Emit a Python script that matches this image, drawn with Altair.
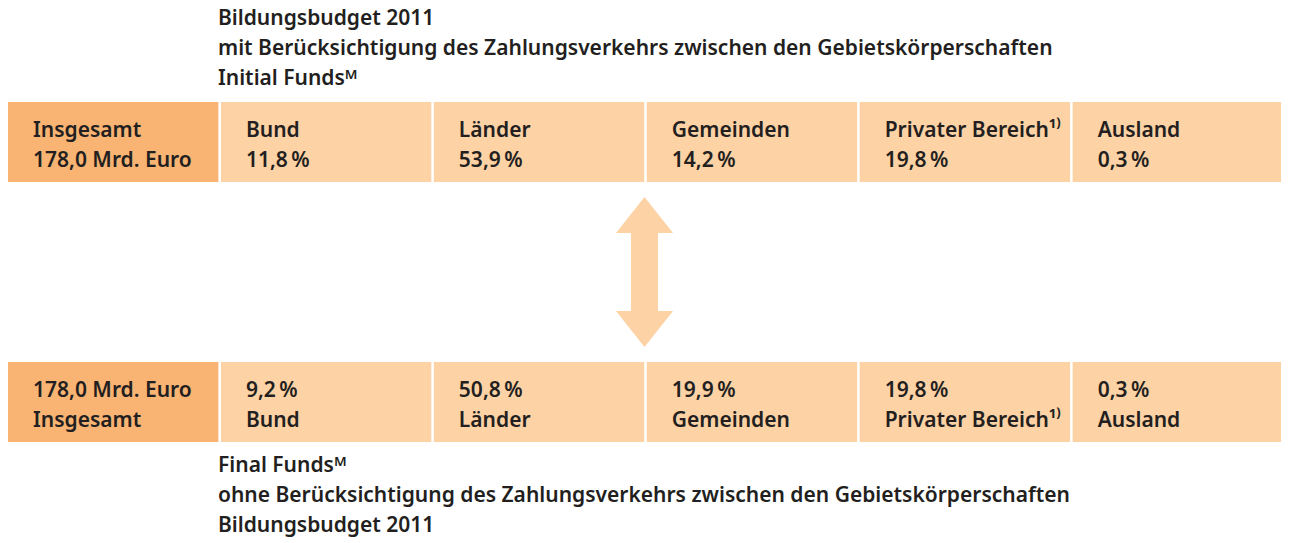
import altair as alt
import pandas as pd

# ---- Daten ----
kategorien = ["Bund", "Länder", "Gemeinden", "Privater Bereich¹⁾", "Ausland"]
anteile_initial = [11.8, 53.9, 14.2, 19.8, 0.3]
anteile_final = [9.2, 50.8, 19.9, 19.8, 0.3]
gesamt_mrd = 178.0
gesamt_label = "Insgesamt"
reihen = ["Initial", "Final"]
titel_oben = ["Bildungsbudget 2011",
              "mit Berücksichtigung des Zahlungsverkehrs zwischen den Gebietskörperschaften",
              "Initial Fundsᴹ"]
titel_unten = ["Final Fundsᴹ",
               "ohne Berücksichtigung des Zahlungsverkehrs zwischen den Gebietskörperschaften",
               "Bildungsbudget 2011"]

DUNKEL = "#F9B473"
HELL = "#FDD2A5"
TEXT = "#231F20"
FONT = "Noto Sans"
FS = 21
FW = 600


def de(v):
    return f"{v:.1f}".replace(".", ",")


spalten = [gesamt_label] + kategorien
rows = []
for reihe, anteile in zip(reihen, [anteile_initial, anteile_final]):
    eintraege = [(gesamt_label, de(gesamt_mrd) + " Mrd. Euro", "gesamt")] + [
        (k, de(a) + "\u2009%", "teil") for k, a in zip(kategorien, anteile)
    ]
    for name, wert, typ in eintraege:
        text = f"{name}\n{wert}" if reihe == "Initial" else f"{wert}\n{name}"
        rows.append(dict(spalte=name, reihe=reihe, text=text, typ=typ))
df = pd.DataFrame(rows)

W, H = 1273, 535

xscale = alt.Scale(domain=spalten, range=[0, 1275], paddingInner=0.012, paddingOuter=0)
yscale = alt.Scale(domain=reihen, range=[94, 434], paddingInner=0.6923, paddingOuter=0)

base = alt.Chart(df)

boxes = base.mark_rect().encode(
    x=alt.X("spalte:N", scale=xscale, axis=None),
    y=alt.Y("reihe:N", scale=yscale, axis=None),
    color=alt.Color("typ:N", scale=alt.Scale(domain=["gesamt", "teil"], range=[DUNKEL, HELL]), legend=None),
)

labels = base.mark_text(
    align="left", baseline="top", lineBreak="\n", lineHeight=30,
    font=FONT, fontSize=FS, fontWeight=FW, color=TEXT, dx=25, dy=18,
).encode(
    x=alt.X("spalte:N", scale=xscale, axis=None, bandPosition=0),
    y=alt.Y("reihe:N", scale=yscale, axis=None, bandPosition=0),
    text="text:N",
)

arrow_path = ("M0,-1 L0.38,-0.52 L0.18,-0.52 L0.18,0.52 L0.38,0.52 L0,1 "
              "L-0.38,0.52 L-0.18,0.52 L-0.18,-0.52 L-0.38,-0.52 Z")
arrow = alt.Chart(pd.DataFrame({"a": [0]})).mark_point(
    shape=arrow_path, filled=True, size=22500, color=HELL, opacity=1, strokeWidth=0,
).encode(x=alt.value(636.5), y=alt.value(264))


def titel_layer(zeile, y):
    return alt.Chart(pd.DataFrame({"t": [zeile]})).mark_text(
        align="left", baseline="middle",
        font=FONT, fontSize=FS, fontWeight=FW, color=TEXT,
    ).encode(x=alt.value(210), y=alt.value(y), text="t:N")


titel = [titel_layer(z, 11 + 30 * i) for i, z in enumerate(titel_oben)]
titel += [titel_layer(z, 458 + 30 * i) for i, z in enumerate(titel_unten)]

chart = alt.layer(boxes, labels, arrow, *titel).properties(
    width=W, height=H, padding=0, autosize=alt.AutoSizeParams(type="none"),
).configure_view(strokeWidth=0)

chart.save("out.html", embed_options={"renderer": "svg", "actions": False})
